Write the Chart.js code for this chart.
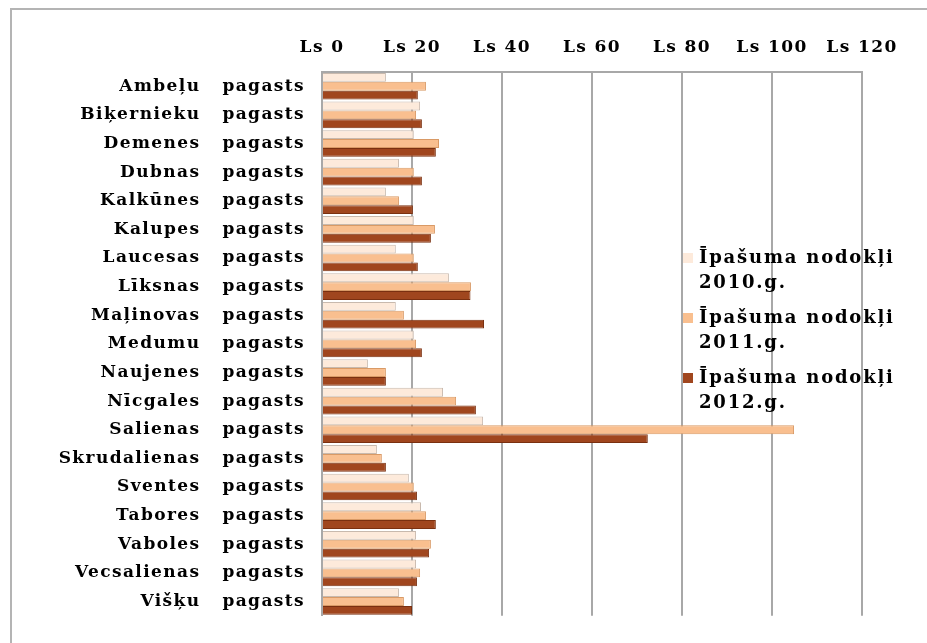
<!DOCTYPE html>
<html>
<head>
<meta charset="utf-8">
<script src="https://cdn.jsdelivr.net/npm/chart.js@4.4.0/dist/chart.umd.min.js"></script>
<style>
  html, body { margin: 0; padding: 0; background: #fff; overflow: hidden; }
  #wrap { position: relative; width: 927px; height: 643px; overflow: hidden; }
  #frame { position: absolute; left: 10px; top: 8px; width: 940px; height: 660px; border: 2px solid #b4b4b4; box-sizing: border-box; pointer-events: none; }
</style>
</head>
<body>
<div id="wrap">
  <canvas id="taxChart" width="927" height="643"></canvas>
  <div id="frame"></div>
</div>
<script>
// pagasti
const parishes = [
  'Ambeļu   pagasts', 'Biķernieku   pagasts', 'Demenes   pagasts', 'Dubnas   pagasts',
  'Kalkūnes   pagasts', 'Kalupes   pagasts', 'Laucesas   pagasts', 'Līksnas   pagasts',
  'Maļinovas   pagasts', 'Medumu   pagasts', 'Naujenes   pagasts', 'Nīcgales   pagasts',
  'Salienas   pagasts', 'Skrudalienas   pagasts', 'Sventes   pagasts', 'Tabores   pagasts',
  'Vaboles   pagasts', 'Vecsalienas   pagasts', 'Višķu   pagasts'
];

const tax2010 = [14.2, 21.8, 20.4, 17.1, 14.2, 20.4, 16.4, 28.2, 16.4, 20.4, 10.2, 26.9, 35.8, 12.2, 19.3, 22.0, 20.9, 20.9, 17.1];
const tax2011 = [23.1, 20.9, 26.0, 20.4, 17.1, 25.1, 20.4, 33.1, 18.2, 20.9, 14.2, 29.8, 104.9, 13.3, 20.4, 23.1, 24.2, 21.8, 18.2];
const tax2012 = [21.3, 22.2, 25.3, 22.2, 20.2, 24.2, 21.3, 33.0, 36.0, 22.2, 14.2, 34.2, 72.4, 14.2, 21.1, 25.3, 23.8, 21.1, 20.0];

const seriesLabels = ['Īpašuma nodokļi 2010.g.', 'Īpašuma nodokļi 2011.g.', 'Īpašuma nodokļi 2012.g.'];

const xTicks = [0, 20, 40, 60, 80, 100, 120];

const serif = '"DejaVu Serif", "Liberation Serif", serif';

// the original font is much wider than DejaVu Serif, so space the letters out
const wideText = {
  id: 'wideText',
  beforeLayout(chart) { chart.ctx.letterSpacing = '1.4px'; },
  beforeDraw(chart) { chart.ctx.letterSpacing = '1.4px'; }
};

// legend drawn over the plot, like in the original
const overlayLegend = {
  id: 'overlayLegend',
  afterDraw(chart) {
    const ctx = chart.ctx;
    ctx.save();
    ctx.letterSpacing = '1.8px';
    ctx.font = 'bold 18px ' + serif;
    ctx.textBaseline = 'middle';
    let y = 258;
    chart.data.datasets.forEach(ds => {
      ctx.fillStyle = ds.backgroundColor;
      ctx.fillRect(683, y - 5, 10, 10);
      ctx.fillStyle = '#000';
      const words = ds.label.split(' ');
      ctx.fillText(words.slice(0, 2).join(' '), 699, y);
      ctx.fillText(words[2], 699, y + 25);
      y += 60;
    });
    ctx.restore();
  }
};

const ctx = document.getElementById('taxChart').getContext('2d');

const myChart = new Chart(ctx, {
  type: 'bar',
  data: {
    labels: parishes,
    datasets: [{
      label: seriesLabels[0],
      data: tax2010,
      backgroundColor: '#fdeadb',
      borderColor: '#c8b9ad',
      borderWidth: 1
    }, {
      label: seriesLabels[1],
      data: tax2011,
      backgroundColor: '#f9bf8f',
      borderColor: '#d99a66',
      borderWidth: 1
    }, {
      label: seriesLabels[2],
      data: tax2012,
      backgroundColor: '#a0461e',
      borderColor: '#7a3010',
      borderWidth: 1
    }]
  },
  options: {
    indexAxis: 'y',
    responsive: false,
    animation: false,
    categoryPercentage: 0.93,
    barPercentage: 1,
    layout: { padding: { left: 12, right: 65, top: 26, bottom: 18 } },
    plugins: {
      legend: { display: false },
      tooltip: { enabled: false }
    },
    scales: {
      x: {
        position: 'top',
        min: 0,
        max: 120,
        afterBuildTicks: scale => { scale.ticks = xTicks.map(v => ({ value: v })); },
        afterFit: scale => { scale.height = 46; },
        ticks: {
          color: '#000',
          padding: 14,
          font: { family: serif, size: 17, weight: 'bold' },
          callback: v => 'Ls ' + v
        },
        grid: { color: '#a8a8a8', lineWidth: 2, drawTicks: false },
        border: { color: '#a8a8a8', width: 2 }
      },
      y: {
        afterFit: scale => { scale.width = 310; },
        ticks: {
          color: '#000',
          padding: 17,
          font: { family: serif, size: 17, weight: 'bold' }
        },
        grid: { display: false, drawTicks: false },
        border: { color: '#a8a8a8', width: 2 }
      }
    }
  },
  plugins: [wideText, overlayLegend]
});
</script>
</body>
</html>
